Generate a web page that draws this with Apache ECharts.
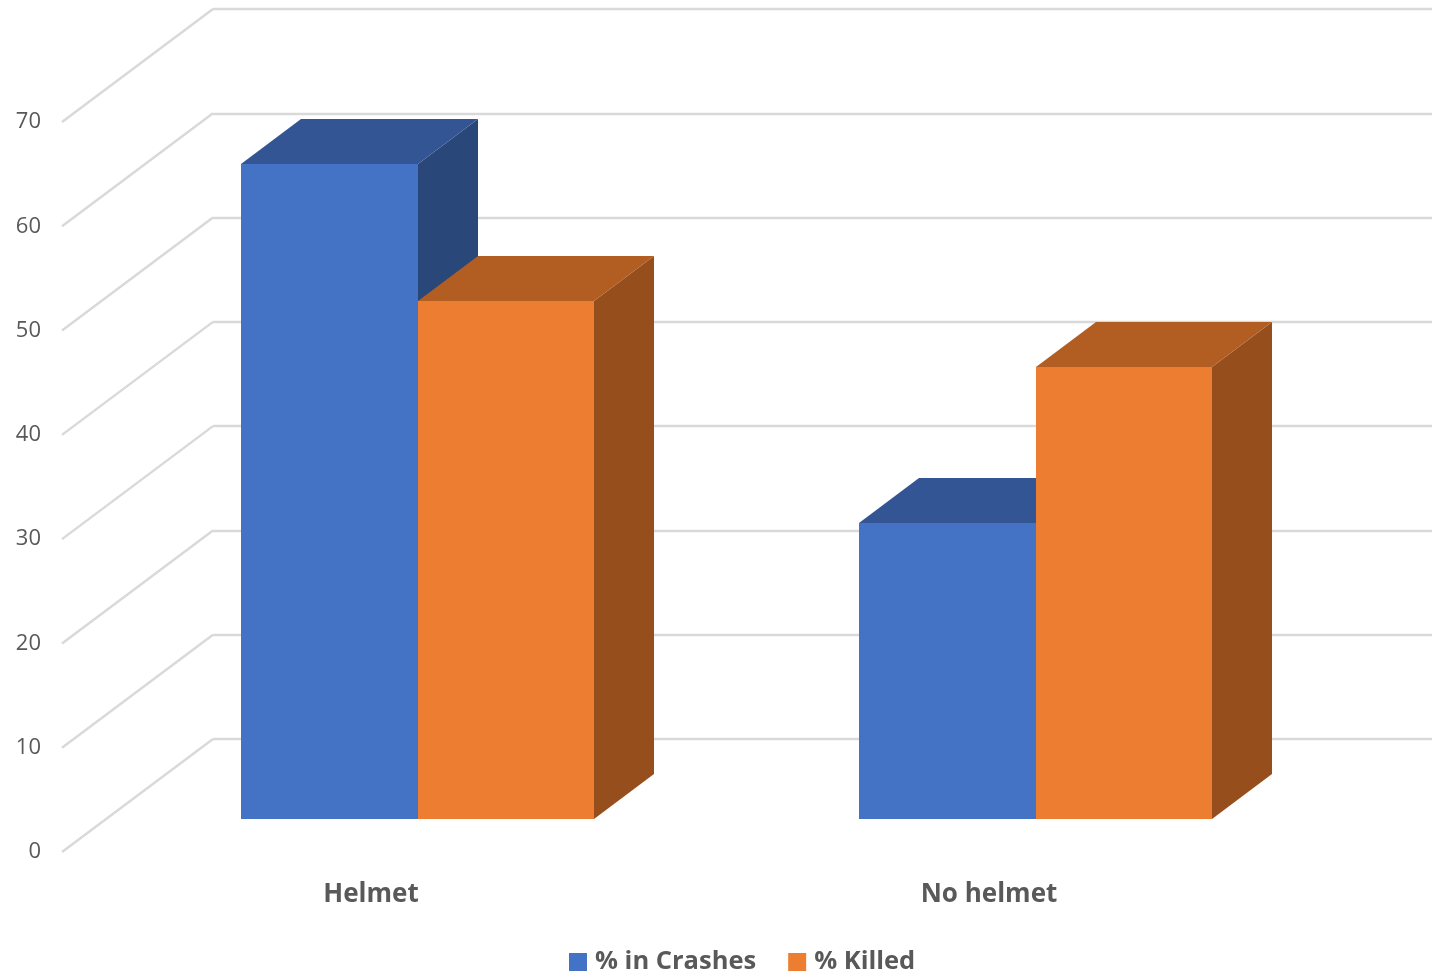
<!DOCTYPE html>
<html>
<head>
<meta charset="utf-8">
<style>html,body{margin:0;padding:0;background:#fff}#c{width:1432px;height:977px}</style>
<script src="https://cdn.jsdelivr.net/npm/echarts@6/dist/echarts.min.js"></script>
</head>
<body>
<div id="c"></div>
<script>
const categories = ['Helmet', 'No helmet'];
const crashes = [62.8, 28.4];
const killed = [49.7, 43.3];
const yTicks = [0, 10, 20, 30, 40, 50, 60, 70];
const seriesNames = ['% in Crashes', '% Killed'];

const FONT = '"Open Sans", "Noto Sans", sans-serif';
const GRID_COLOR = '#d9d9d9';
const TEXT_COLOR = '#595959';
const WALL_DX = 151, WALL_DY = -113;
const BAR_DX = 60, BAR_DY = -45;

function barRenderer(offsetIndex, front, top, side) {
  return function (params, api) {
    const base = api.coord([api.value(0), 0]);
    const peak = api.coord([api.value(0), api.value(1)]);
    const barW = api.size([1, 0])[0] / 3.5;
    const x0 = Math.round(base[0] + (offsetIndex - 1) * barW);
    const x1 = Math.round(base[0] + offsetIndex * barW);
    const yb = Math.round(base[1]), yt = Math.round(peak[1]);
    return {
      type: 'group',
      children: [
        { type: 'polygon', shape: { points: [[x1, yt], [x1 + BAR_DX, yt + BAR_DY], [x1 + BAR_DX, yb + BAR_DY], [x1, yb]] }, style: { fill: side } },
        { type: 'polygon', shape: { points: [[x0, yt], [x0 + BAR_DX, yt + BAR_DY], [x1 + BAR_DX, yt + BAR_DY], [x1, yt]] }, style: { fill: top } },
        { type: 'rect', shape: { x: x0, y: yt, width: x1 - x0, height: yb - yt }, style: { fill: front } }
      ]
    };
  };
}

const chart = echarts.init(document.getElementById('c'), null, { renderer: 'canvas' });
chart.setOption({
  animation: false,
  backgroundColor: '#ffffff',
  legend: {
    left: 564, top: 944,
    icon: 'rect', itemWidth: 18, itemHeight: 18, itemGap: 32,
    data: seriesNames,
    textStyle: { fontFamily: FONT, fontSize: 25.5, fontWeight: 700, color: TEXT_COLOR, padding: [0, 0, 0, 3] }
  },
  grid: [
    { left: 213, top: 9, width: 1236, height: 730 },
    { left: 62, top: 122, width: 1236, height: 730 },
    { left: 108.5, top: 89, width: 1236, height: 730 }
  ],
  xAxis: [
    { gridIndex: 0, type: 'category', data: categories, show: false },
    {
      gridIndex: 1, type: 'category', data: categories,
      axisLine: { show: false }, axisTick: { show: false }, splitLine: { show: false },
      axisLabel: { margin: 30, fontFamily: FONT, fontSize: 26, fontWeight: 700, color: TEXT_COLOR }
    },
    { gridIndex: 2, type: 'category', data: categories, show: false }
  ],
  yAxis: [
    {
      gridIndex: 0, type: 'value', min: 0, max: 70, interval: 10,
      axisLine: { show: false }, axisTick: { show: false }, axisLabel: { show: false },
      splitLine: { show: true, lineStyle: { color: GRID_COLOR, width: 2.4 } }
    },
    {
      gridIndex: 1, type: 'value', min: 0, max: 70, interval: 10,
      axisLine: { show: false }, axisTick: { show: false }, splitLine: { show: false },
      axisLabel: { margin: 21, fontFamily: FONT, fontSize: 22, color: TEXT_COLOR, padding: [6, 0, 0, 0] }
    },
    { gridIndex: 2, type: 'value', min: 0, max: 70, interval: 10, show: false, splitLine: { show: false } }
  ],
  series: [
    {
      type: 'custom', name: 'sideWall', xAxisIndex: 1, yAxisIndex: 1, silent: true, z: 1, clip: false,
      data: yTicks.map(v => [0, v]),
      encode: { y: 1 },
      renderItem(params, api) {
        const p = api.coord([0, api.value(1)]);
        const left = params.coordSys.x;
        return {
          type: 'line',
          shape: { x1: left, y1: p[1], x2: left + WALL_DX, y2: p[1] + WALL_DY },
          style: { stroke: GRID_COLOR, lineWidth: 2.4, fill: null }
        };
      }
    },
    {
      type: 'custom', name: seriesNames[0], xAxisIndex: 2, yAxisIndex: 2, z: 3, clip: false,
      itemStyle: { color: '#4472c4' },
      data: crashes.map((v, i) => [i, v]),
      encode: { x: 0, y: 1 },
      renderItem: barRenderer(0, '#4472c4', '#335593', '#2a4779')
    },
    {
      type: 'custom', name: seriesNames[1], xAxisIndex: 2, yAxisIndex: 2, z: 4, clip: false,
      itemStyle: { color: '#ed7d31' },
      data: killed.map((v, i) => [i, v]),
      encode: { x: 0, y: 1 },
      renderItem: barRenderer(1, '#ed7d31', '#b25d22', '#964e1c')
    }
  ]
});
</script>
</body>
</html>
